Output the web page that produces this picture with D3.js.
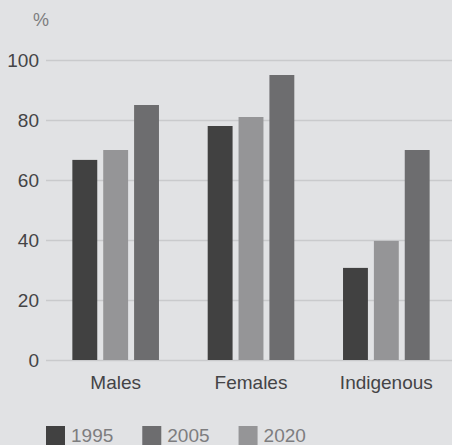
<!DOCTYPE html>
<html>
<head>
<meta charset="utf-8">
<script src="https://cdn.jsdelivr.net/npm/d3@7"></script>
<style>
  html, body { margin: 0; padding: 0; background: #e1e2e4; }
  #chart text { font-family: "Liberation Sans", Arial, sans-serif; }
</style>
</head>
<body>
<div id="chart"></div>
<script>
// data
const categories = ['Males', 'Females', 'Indigenous'];
const years = ['1995', '2005', '2020'];
const barOrder = ['1995', '2020', '2005'];
const values1995 = [66.7, 78, 30.7];
const values2005 = [85, 95, 70];
const values2020 = [70, 81, 39.7];
const yTicks = [0, 20, 40, 60, 80, 100];

const seriesValues = { '1995': values1995, '2005': values2005, '2020': values2020 };
const colors = { '1995': '#414141', '2005': '#6d6d6f', '2020': '#959597' };

const width = 452, height = 445;
const margin = {top: 60, right: 0, bottom: 85, left: 46};

let svg = d3.select('#chart').append('svg')
  .attr('width', width)
  .attr('height', height);

let y = d3.scaleLinear()
  .domain([0, 100])
  .range([360, 60]);

let x0 = d3.scaleBand()
  .domain(categories)
  .range([48, 454])
  .paddingInner(0.36)
  .paddingOuter(0.18);

let x1 = d3.scaleBand()
  .domain(barOrder)
  .range([0, x0.bandwidth()])
  .paddingInner(6 / 31);

// grid + y labels
let yAxis = svg.append('g')
  .attr('transform', 'translate(' + margin.left + ',0)')
  .call(d3.axisLeft(y).tickValues(yTicks).tickSize(-(width - margin.left)).tickPadding(7));
yAxis.select('.domain').remove();
yAxis.selectAll('.tick line').attr('stroke', '#c9cacc').attr('stroke-width', 1.5);
yAxis.selectAll('.tick text')
  .attr('fill', '#444446')
  .style('font-size', '19px');

svg.append('text')
  .attr('x', 41)
  .attr('y', 26)
  .attr('text-anchor', 'middle')
  .attr('fill', '#7d7d7f')
  .style('font-size', '18px')
  .text('%');

// bars
let groups = svg.selectAll('.group')
  .data(categories)
  .enter().append('g')
  .attr('class', 'group')
  .attr('transform', d => 'translate(' + x0(d) + ',0)');

groups.selectAll('rect')
  .data((d, i) => barOrder.map(s => ({ series: s, value: seriesValues[s][i] })))
  .enter().append('rect')
  .attr('x', d => x1(d.series))
  .attr('width', x1.bandwidth())
  .attr('y', d => y(d.value))
  .attr('height', d => y(0) - y(d.value))
  .attr('fill', d => colors[d.series]);

// category labels
let xAxis = svg.append('g')
  .attr('transform', 'translate(0,' + y(0) + ')')
  .call(d3.axisBottom(x0).tickSize(0).tickPadding(16));
xAxis.select('.domain').remove();
xAxis.selectAll('.tick text')
  .attr('fill', '#444446')
  .style('font-size', '19px');

// legend
let lx = 46;
years.forEach(yr => {
  svg.append('rect')
    .attr('x', lx)
    .attr('y', 426)
    .attr('width', 19)
    .attr('height', 19)
    .attr('fill', colors[yr]);
  let t = svg.append('text')
    .attr('x', lx + 25)
    .attr('y', 442)
    .attr('fill', '#7d7d7f')
    .style('font-size', '19px')
    .text(yr);
  lx += 25 + t.node().getComputedTextLength() + 29;
});
</script>
</body>
</html>
